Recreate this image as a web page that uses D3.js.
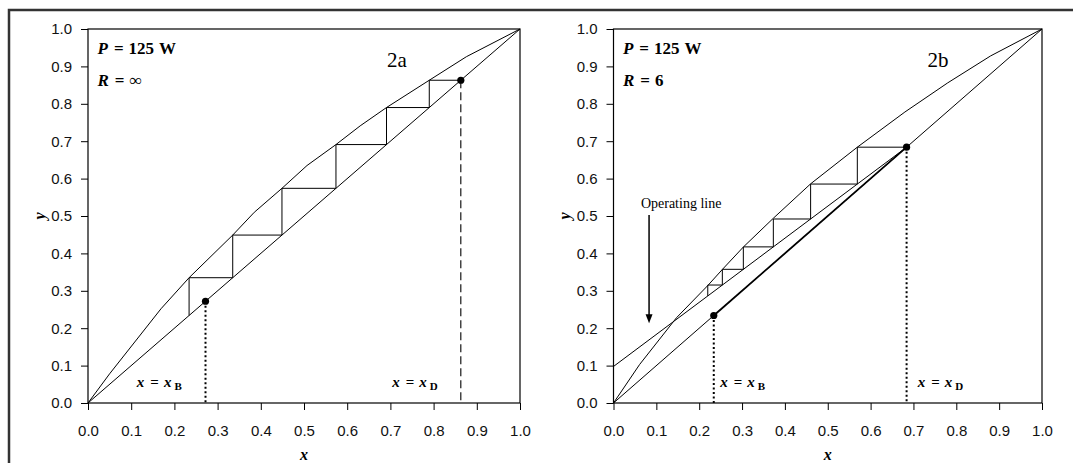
<!DOCTYPE html>
<html>
<head>
<meta charset="utf-8">
<script src="https://cdn.jsdelivr.net/npm/d3@7"></script>
<style>
body { margin: 0; background: #fff; }
svg { display: block; }
.tick text { font-family: "Liberation Sans", Arial, sans-serif; font-size: 15px; fill: #111; }
.serif { font-family: "Liberation Serif", "Times New Roman", serif; fill: #000; }
</style>
</head>
<body>
<svg id="chart" width="1073" height="463"></svg>
<script>
const xTicks = [0, 0.1, 0.2, 0.3, 0.4, 0.5, 0.6, 0.7, 0.8, 0.9, 1.0];
const yTicks = [0, 0.1, 0.2, 0.3, 0.4, 0.5, 0.6, 0.7, 0.8, 0.9, 1.0];

// equilibrium curves (x, y)
const eqA = [[0, 0], [0.05, 0.078], [0.169, 0.252], [0.234, 0.335], [0.335, 0.449], [0.385, 0.51],
  [0.449, 0.574], [0.507, 0.635], [0.574, 0.691], [0.63, 0.741], [0.691, 0.79], [0.79, 0.863],
  [0.876, 0.926], [1, 1]];
const eqB = [[0, 0], [0.061, 0.103], [0.147, 0.228], [0.22, 0.314], [0.254, 0.357], [0.303, 0.417],
  [0.373, 0.494], [0.46, 0.586], [0.569, 0.684], [0.68, 0.778], [0.78, 0.856], [0.88, 0.928], [1, 1]];

// liquid compositions of the theoretical stages (top to bottom)
const stagesA = [0.79, 0.691, 0.574, 0.449, 0.335, 0.234];
const stagesB = [0.569, 0.46, 0.373, 0.303, 0.254, 0.22];

const xBA = 0.272, xDA = 0.863;
const xBB = 0.234, xDB = 0.684;
const refluxA = Infinity, refluxB = 6;
const power = 125;

const svg = d3.select("#chart");

// outer frame (top + left edges only are visible)
svg.append("path")
  .attr("d", "M9,463V10H1073")
  .attr("fill", "none")
  .attr("stroke", "#333")
  .attr("stroke-width", 2.5);

const panels = [
  {x0: 88, x1: 520, eq: eqA, stages: stagesA, xB: xBA, xD: xDA, R: refluxA, tag: "2a", rText: "\u221E",
    dDash: "8,4", boldDiag: false, tagX: 0.692, pX: 0.022, xbLab: 0.113, xdLab: 0.704},
  {x0: 613.5, x1: 1042, eq: eqB, stages: stagesB, xB: xBB, xD: xDB, R: refluxB, tag: "2b", rText: "6",
    dDash: "2,2.5", boldDiag: true, tagX: 0.733, pX: 0.022, xbLab: 0.249, xdLab: 0.71, opLabel: true}
];

panels.forEach(p => drawPanel(p));

function drawPanel(p) {
  const x = d3.scaleLinear().domain([0, 1]).range([p.x0, p.x1]);
  const y = d3.scaleLinear().domain([0, 1]).range([403, 29]);
  const g = svg.append("g");
  const line = d3.line().x(d => x(d[0])).y(d => y(d[1]));

  g.append("g")
    .attr("transform", "translate(0,403)")
    .call(d3.axisBottom(x).tickValues(xTicks).tickFormat(d3.format(".1f")).tickSize(7).tickPadding(15))
    .call(a => a.select(".domain").remove());
  g.append("g")
    .attr("transform", `translate(${p.x0},0)`)
    .call(d3.axisLeft(y).tickValues(yTicks).tickFormat(d3.format(".1f")).tickSize(7).tickPadding(9))
    .call(a => a.select(".domain").remove());
  g.selectAll(".tick line").attr("stroke", "#000");

  g.append("rect")
    .attr("x", x(0)).attr("y", y(1))
    .attr("width", x(1) - x(0)).attr("height", y(0) - y(1))
    .attr("fill", "none").attr("stroke", "#000").attr("stroke-width", 1.2);

  const op = p.R === Infinity ? (v => v) : (v => p.R / (p.R + 1) * v + p.xD / (p.R + 1));

  // diagonal
  g.append("path").attr("d", line([[0, 0], [1, 1]]))
    .attr("fill", "none").attr("stroke", "#000").attr("stroke-width", 1);
  if (p.boldDiag) {
    g.append("path").attr("d", line([[p.xB, p.xB], [p.xD, p.xD]]))
      .attr("fill", "none").attr("stroke", "#000").attr("stroke-width", 1.8);
  }
  // equilibrium curve
  g.append("path").attr("d", line(p.eq))
    .attr("fill", "none").attr("stroke", "#000").attr("stroke-width", 1);
  // operating line
  if (p.R !== Infinity) {
    g.append("path").attr("d", line([[0, op(0)], [p.xD, op(p.xD)]]))
      .attr("fill", "none").attr("stroke", "#000").attr("stroke-width", 1);
  }

  // staircase
  const pts = [[p.xD, p.xD]];
  let yy = p.xD;
  p.stages.forEach(s => {
    pts.push([s, yy]);
    yy = op(s);
    pts.push([s, yy]);
  });
  g.append("path").attr("d", line(pts))
    .attr("fill", "none").attr("stroke", "#000").attr("stroke-width", 1);

  // xB / xD markers
  g.append("line")
    .attr("x1", x(p.xB)).attr("x2", x(p.xB)).attr("y1", y(p.xB)).attr("y2", y(0))
    .attr("stroke", "#000").attr("stroke-width", 2).attr("stroke-dasharray", "2,2.5");
  g.append("line")
    .attr("x1", x(p.xD)).attr("x2", x(p.xD)).attr("y1", y(p.xD)).attr("y2", y(0))
    .attr("stroke", "#000").attr("stroke-width", p.dDash === "8,4" ? 1.1 : 2)
    .attr("stroke-dasharray", p.dDash);
  g.selectAll("circle.pt")
    .data([p.xB, p.xD])
    .enter().append("circle")
    .attr("cx", d => x(d)).attr("cy", d => y(d)).attr("r", 3.6).attr("fill", "#000");

  // labels
  const lab = (xv, sub) => {
    const t = g.append("text").attr("class", "serif")
      .attr("x", x(xv)).attr("y", y(0.043))
      .attr("font-size", 15).attr("font-weight", "bold");
    t.append("tspan").attr("font-style", "italic").text("x");
    t.append("tspan").attr("dx", 6).text("=");
    t.append("tspan").attr("dx", 5).attr("font-style", "italic").text("x");
    t.append("tspan").attr("dx", 3).attr("dy", 3).attr("font-size", 11).text(sub);
  };
  lab(p.xbLab, "B");
  lab(p.xdLab, "D");

  g.append("text").attr("class", "serif")
    .attr("x", x(p.tagX)).attr("y", 67)
    .attr("font-size", 21).text(p.tag);

  const pt = g.append("text").attr("class", "serif")
    .attr("x", x(p.pX)).attr("y", 54)
    .attr("font-size", 17).attr("font-weight", "bold");
  pt.append("tspan").attr("font-style", "italic").text("P");
  pt.append("tspan").attr("dx", 6).text("=");
  pt.append("tspan").attr("dx", 5).text(power);
  pt.append("tspan").attr("dx", 5).text("W");

  const rt = g.append("text").attr("class", "serif")
    .attr("x", x(p.pX)).attr("y", 86)
    .attr("font-size", 17).attr("font-weight", "bold");
  rt.append("tspan").attr("font-style", "italic").text("R");
  rt.append("tspan").attr("dx", 6).text("=");
  rt.append("tspan").attr("dx", 5).text(p.rText);

  // axis titles
  g.append("text").attr("class", "serif")
    .attr("x", (x(0) + x(1)) / 2).attr("y", 460)
    .attr("text-anchor", "middle")
    .attr("font-size", 16).attr("font-weight", "bold").attr("font-style", "italic")
    .text("x");
  g.append("text").attr("class", "serif")
    .attr("transform", `translate(${x(0) - 48},${y(0.5)}) rotate(-90)`)
    .attr("text-anchor", "middle").attr("dy", "0.3em")
    .attr("font-size", 16).attr("font-weight", "bold").attr("font-style", "italic")
    .text("y");

  if (p.opLabel) {
    g.append("text").attr("class", "serif")
      .attr("x", x(0.064)).attr("y", y(0.521))
      .attr("font-size", 14).text("Operating line");
    g.append("line")
      .attr("x1", x(0.083)).attr("x2", x(0.083))
      .attr("y1", y(0.503)).attr("y2", y(0.23))
      .attr("stroke", "#000").attr("stroke-width", 1.5);
    const tipX = x(0.083), tipY = y(0.213);
    g.append("path")
      .attr("d", `M${tipX},${tipY}L${tipX - 3.5},${tipY - 9}L${tipX + 3.5},${tipY - 9}Z`)
      .attr("fill", "#000");
  }
}
</script>
</body>
</html>
